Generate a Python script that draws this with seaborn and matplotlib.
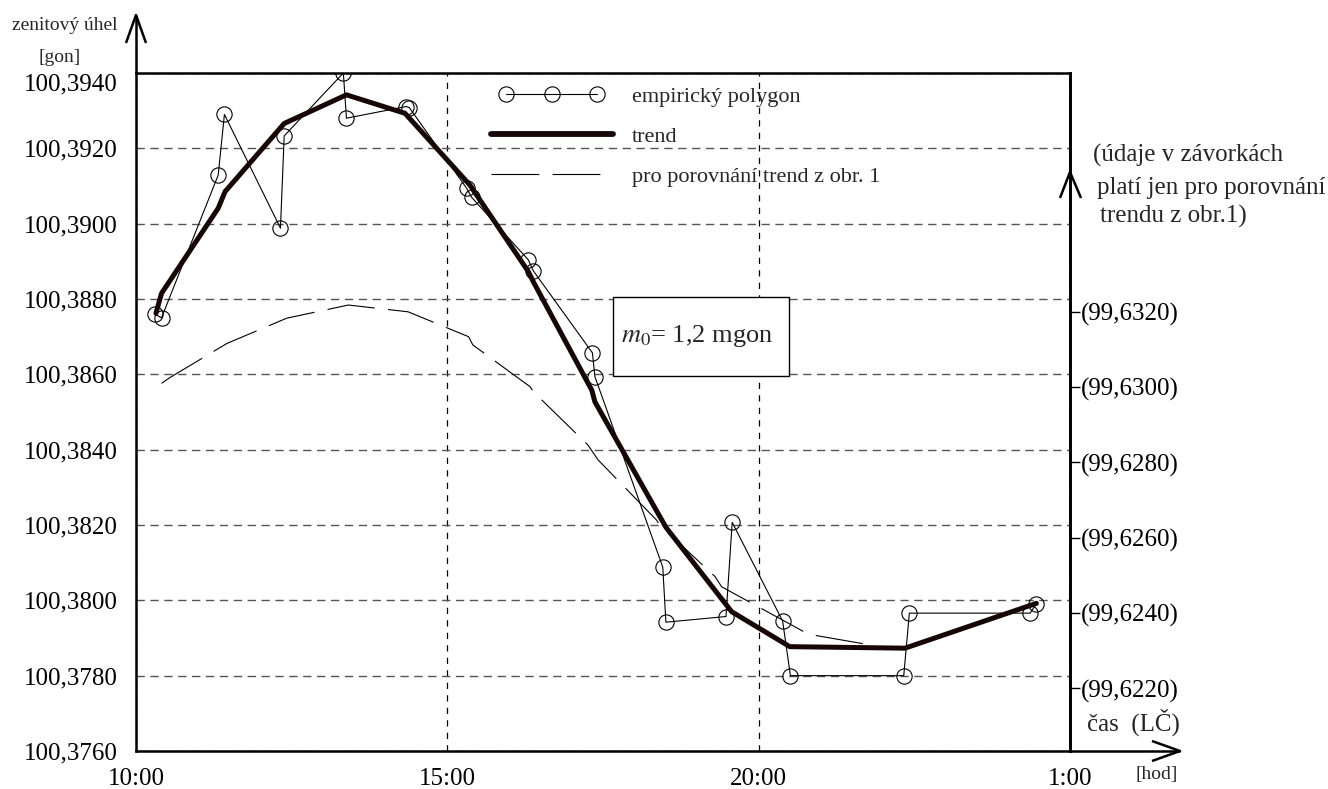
import numpy as np
import pandas as pd
import seaborn as sns
import matplotlib
matplotlib.use("Agg")
import matplotlib.pyplot as plt
from matplotlib.lines import Line2D
from matplotlib.patches import Rectangle
from matplotlib.legend_handler import HandlerLine2D
from matplotlib.ticker import FixedLocator, FixedFormatter

# ---------------- data ----------------
# empirical polygon (time in hours, 25 = 1:00 next day; zenith angle in gon)
emp_t = [10.30, 10.41, 11.32, 11.42, 12.32, 12.38, 13.33, 13.38, 14.34, 14.39,
         15.31, 15.39, 16.30, 16.38, 17.33, 17.37, 18.46, 18.51, 19.475, 19.575,
         20.385, 20.51, 22.33, 22.42, 24.36, 24.45]
emp_v = [100.38760, 100.38750, 100.39129, 100.39290, 100.38988, 100.39233,
         100.39400, 100.39280, 100.39311, 100.39308, 100.39094, 100.39070,
         100.38904, 100.38875, 100.38657, 100.38594, 100.38088, 100.37942,
         100.37957, 100.38207, 100.37945, 100.37800, 100.37800, 100.37966,
         100.37966, 100.37989]

# trend
tr_t = [10.32, 10.41, 11.32, 11.43, 12.38, 13.38, 14.32, 15.36, 16.30, 16.38,
        17.32, 17.37, 18.51, 19.565, 20.50, 22.35, 24.46]
tr_v = [100.38762, 100.38815, 100.39041, 100.39085, 100.39266, 100.39342,
        100.39293, 100.39103, 100.38873, 100.38846, 100.38558, 100.38527,
        100.38194, 100.37970, 100.37877, 100.37873, 100.37992]

# comparison trend from fig. 1 (values on the right-hand axis)
cmp_t = [10.41, 10.55, 11.46, 12.42, 13.41, 14.37, 15.34, 15.41, 16.33, 16.38,
         17.26, 17.42, 18.36, 18.41, 19.30, 19.405, 20.80, 21.71]
cmp_v = [99.63010, 99.63026, 99.63116, 99.63183, 99.63218, 99.63200, 99.63134,
         99.63112, 99.63001, 99.62988, 99.62846, 99.62807, 99.62647, 99.62634,
         99.62497, 99.62470, 99.62344, 99.62318]

x_ticks = [10, 15, 20, 25]
x_labels = ["10:00", "15:00", "20:00", "1:00"]
left_ticks = [100.3760, 100.3780, 100.3800, 100.3820, 100.3840, 100.3860,
              100.3880, 100.3900, 100.3920, 100.3940]
left_labels = ["100,3760", "100,3780", "100,3800", "100,3820", "100,3840",
               "100,3860", "100,3880", "100,3900", "100,3920", "100,3940"]
right_ticks = [99.6220, 99.6240, 99.6260, 99.6280, 99.6300, 99.6320]
right_labels = ["(99,6220)", "(99,6240)", "(99,6260)", "(99,6280)",
                "(99,6300)", "(99,6320)"]
RIGHT_OFFSET = 0.75566  # left value - right value at same height

legend_labels = ["empirický polygon", "trend", "pro porovnání trend z obr. 1"]

# ---------------- style ----------------
sns.set_theme(style="white")
plt.rcParams['font.family'] = ['Liberation Serif', 'DejaVu Serif']
plt.rcParams['mathtext.fontset'] = 'stix'

W, H = 1328, 789
fig = plt.figure(figsize=(W / 100, H / 100), dpi=100)
L, R, T, B = 136, 1070, 73, 751
ax = fig.add_axes([L / W, 1 - B / H, (R - L) / W, (B - T) / H])
ax2 = ax.twinx()

TREND_COLOR = '#170606'
cmp_ls = (0, (43, 12))

emp_df = pd.DataFrame({'t': emp_t, 'v': emp_v})
tr_df = pd.DataFrame({'t': tr_t, 'v': tr_v})
cmp_df = pd.DataFrame({'t': cmp_t, 'v': cmp_v})

sns.lineplot(data=emp_df, x='t', y='v', ax=ax, sort=False, estimator=None,
             color='black', lw=0.8, marker='o', markersize=11,
             markerfacecolor='none', markeredgecolor='black',
             markeredgewidth=0.8, zorder=3)
sns.lineplot(data=tr_df, x='t', y='v', ax=ax, sort=False, estimator=None,
             color=TREND_COLOR, lw=3.6, zorder=4)
sns.lineplot(data=cmp_df, x='t', y='v', ax=ax2, sort=False, estimator=None,
             color='black', lw=0.8, linestyle=cmp_ls, zorder=3)

ax.set_xlim(10, 25)
ax.set_ylim(100.3760, 100.3940)
ax2.set_ylim(100.3760 - RIGHT_OFFSET, 100.3940 - RIGHT_OFFSET)
ax.set_xlabel('')
ax.set_ylabel('')
ax2.set_ylabel('')

ax.xaxis.set_major_locator(FixedLocator(x_ticks))
ax.xaxis.set_major_formatter(FixedFormatter(x_labels))
ax.yaxis.set_major_locator(FixedLocator(left_ticks))
ax.yaxis.set_major_formatter(FixedFormatter(left_labels))
ax2.yaxis.set_major_locator(FixedLocator(right_ticks))
ax2.yaxis.set_major_formatter(FixedFormatter(right_labels))

ax.yaxis.grid(True, color='#555555', linestyle=(0, (6, 4)), lw=1.0)
ax.xaxis.grid(True, color='black', linestyle=(0, (5, 5)), lw=0.9)
ax.set_axisbelow(True)

ax.tick_params(axis='y', left=False, length=0, pad=13, labelsize=18,
               labelcolor='black')
ax.tick_params(axis='x', bottom=False, length=0, pad=12, labelsize=18,
               labelcolor='black')
ax2.tick_params(axis='y', right=True, labelright=True, left=False,
                labelleft=False, length=7, width=1.0, direction='out',
                pad=1, labelsize=18, colors='black')

for sp in ax.spines.values():
    sp.set_color('black')
    sp.set_linewidth(1.8)
for name, sp in ax2.spines.items():
    if name == 'right':
        sp.set_color('black')
        sp.set_linewidth(2.0)
    else:
        sp.set_visible(False)

# top left tick label sits just below the top frame line
ax.get_yticklabels()[-1].set_va('top')

# legend
h_emp = Line2D([], [], color='black', lw=0.8, marker='o', ms=11, mfc='none',
               mec='black', mew=0.8)
h_tr = Line2D([], [], color=TREND_COLOR, lw=4.2)
h_cmp = Line2D([], [], color='black', lw=0.8, linestyle=cmp_ls)
leg = ax.legend([h_emp, h_tr, h_cmp], legend_labels, loc='upper left',
                bbox_to_anchor=((484 - L) / (R - L), (B - 86) / (B - T)),
                frameon=False, fontsize=16, handlelength=6.1, numpoints=3,
                handler_map={h_emp: HandlerLine2D(numpoints=3, marker_pad=1.0)},
                labelspacing=0.88, handletextpad=0.55, borderaxespad=0,
                borderpad=0)
leg.set_zorder(5)

# m0 box
ax.add_patch(Rectangle(((613 - L) / (R - L), (B - 376) / (B - T)),
                       (789 - 613) / (R - L), (376 - 297) / (B - T),
                       transform=ax.transAxes, facecolor='white',
                       edgecolor='black', lw=1.0, zorder=6))
ax.text((697 - L) / (R - L), (B - 336) / (B - T), r"$m_0$= 1,2 mgon",
        transform=ax.transAxes, ha='center', va='center', fontsize=19,
        zorder=7)

# axis arrows (decoration)
def px(x, y):
    return x / W, 1 - y / H

def fig_line(xs, ys, lw=1.8):
    pts = [px(x, y) for x, y in zip(xs, ys)]
    fig.add_artist(Line2D([p[0] for p in pts], [p[1] for p in pts],
                          transform=fig.transFigure, color='black', lw=lw,
                          solid_capstyle='butt'))

fig_line([136, 136], [73, 15])
fig_line([126, 136, 146], [43, 15, 43])
fig_line([1070, 1180], [751, 751])
fig_line([1152, 1180, 1152], [741, 751, 761])
fig_line([1060, 1070, 1081], [198, 172, 198])

# texts
fig.text(*px(118, 25), 'zenitový úhel', ha='right', va='center', fontsize=14)
fig.text(*px(60, 57), '[gon]', ha='center', va='center', fontsize=14)
fig.text(*px(1093, 155), '(údaje v závorkách', ha='left', va='center',
         fontsize=18)
fig.text(*px(1097, 188), 'platí jen pro porovnání', ha='left', va='center',
         fontsize=18)
fig.text(*px(1100, 216), 'trendu z obr.1)', ha='left', va='center',
         fontsize=18)
fig.text(*px(1180, 722), 'čas  (LČ)', ha='right', va='center', fontsize=18)
fig.text(*px(1178, 775), '[hod]', ha='right', va='center', fontsize=14)

fig.savefig('out.png', dpi=100, facecolor='white')
